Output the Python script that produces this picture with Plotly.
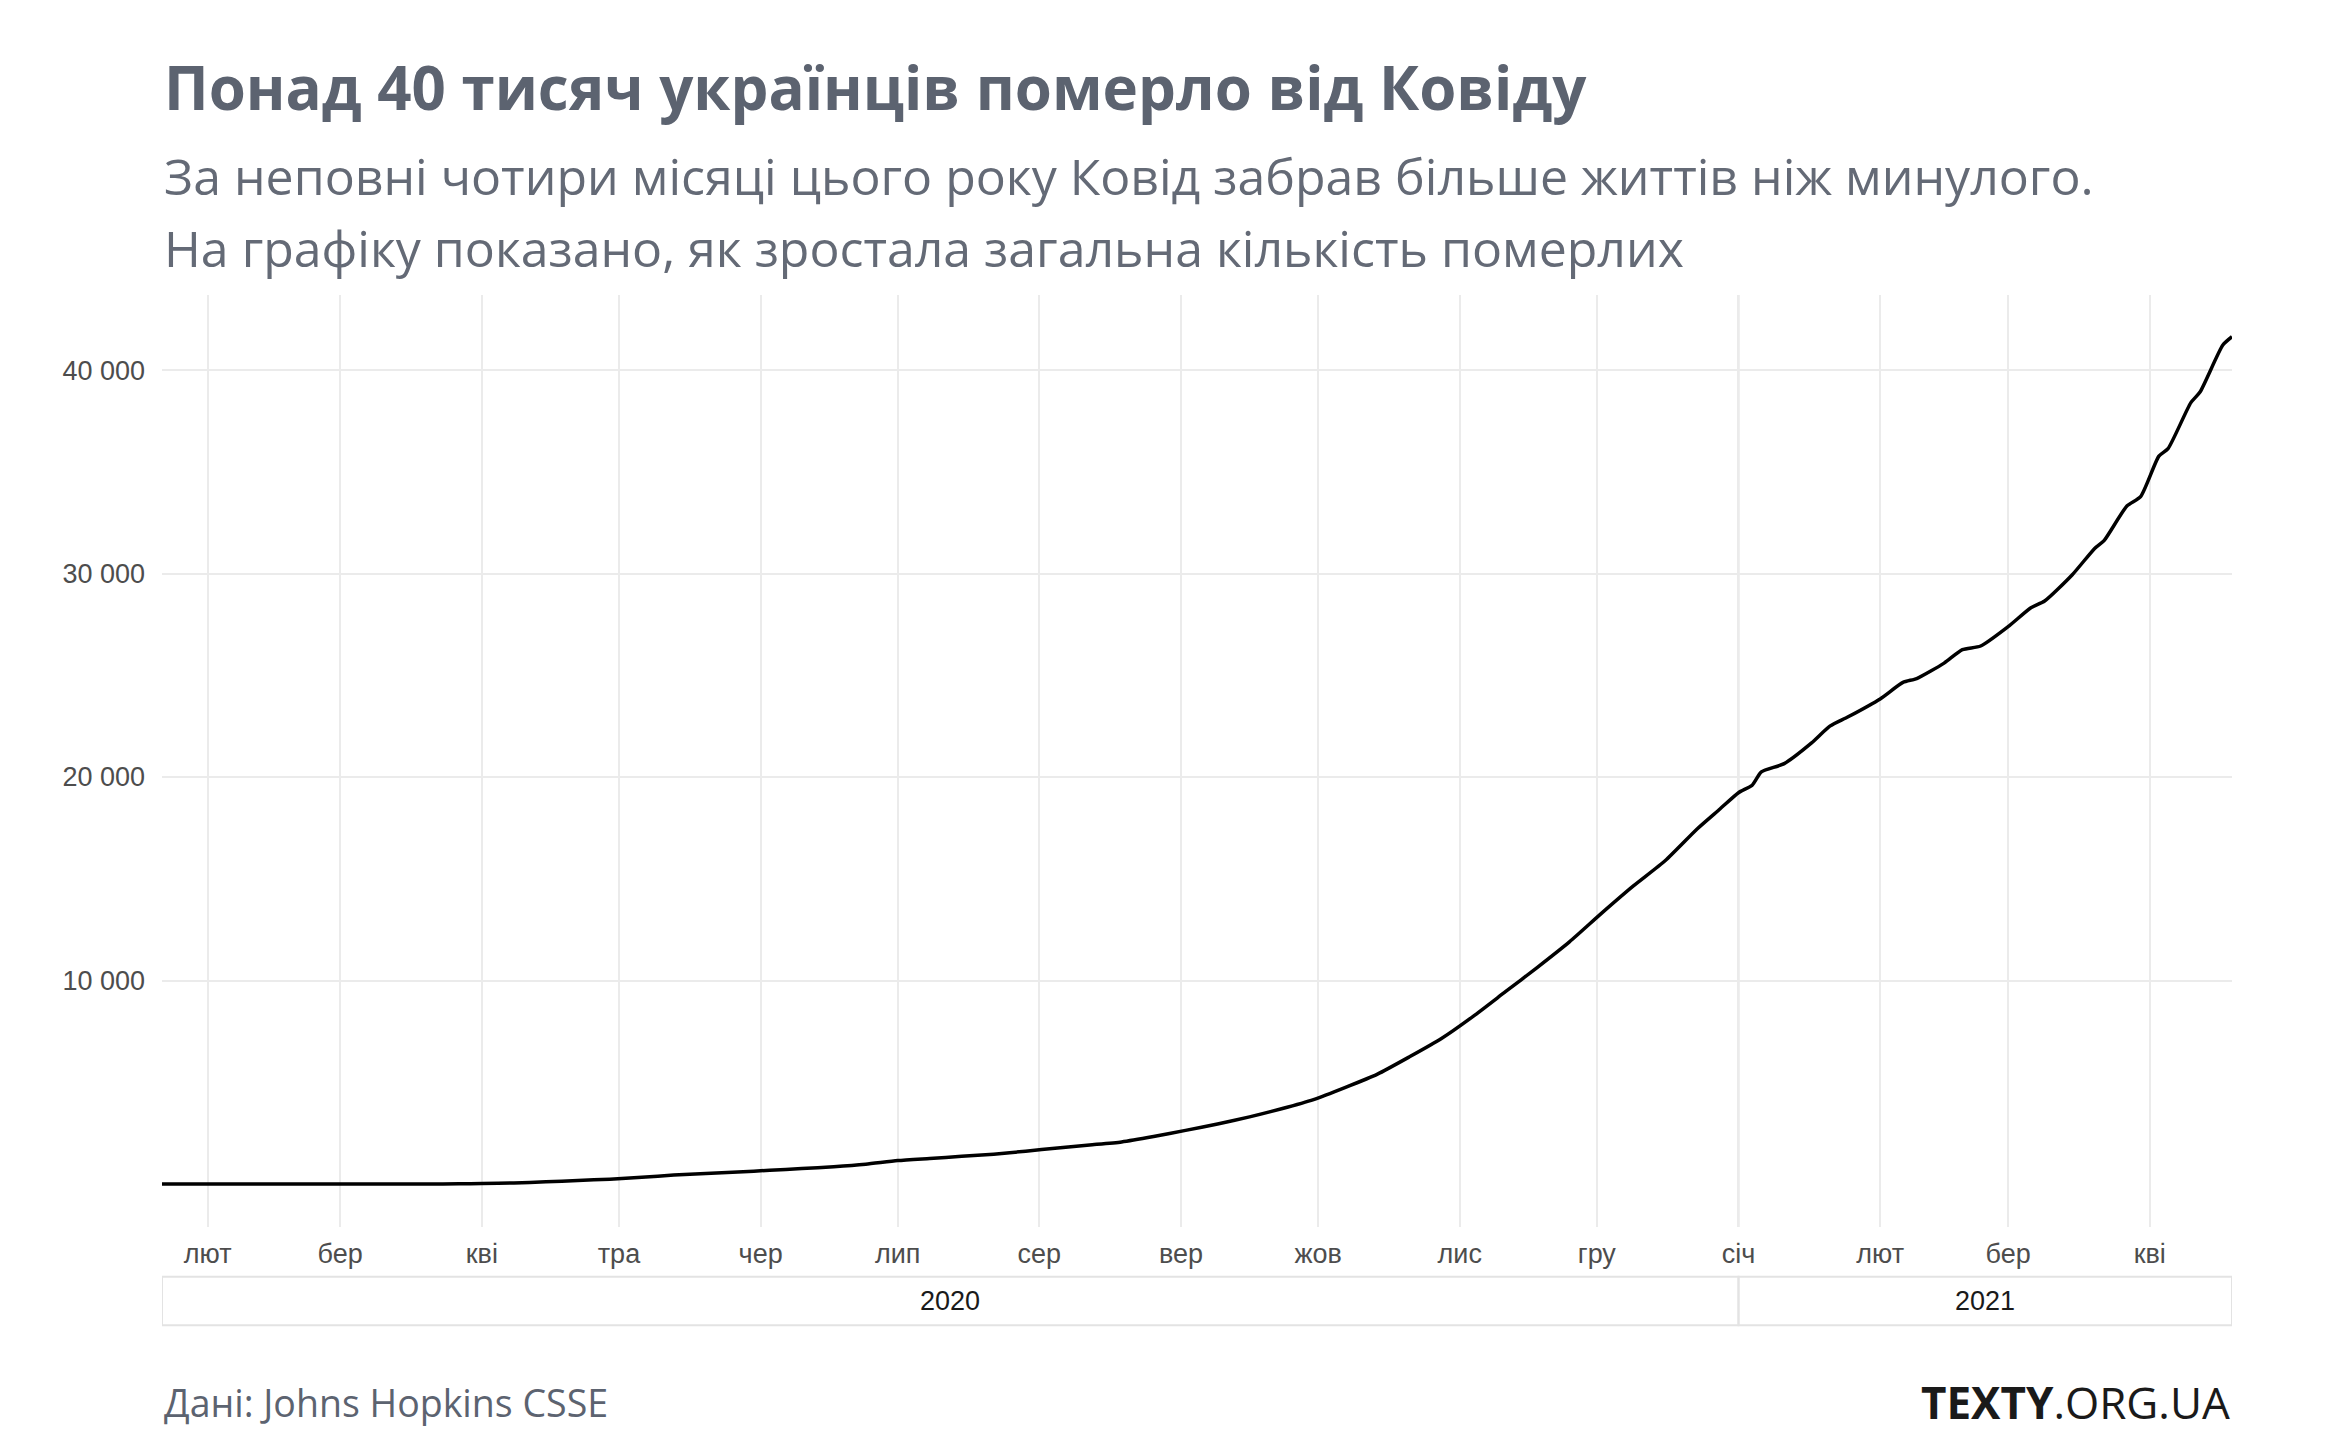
import pandas as pd
import plotly.graph_objects as go

# -----------------------------------------------------------
# Дані: сукупна кількість померлих (Johns Hopkins CSSE)
# -----------------------------------------------------------
dates = [
    "2020-01-22", "2020-02-15", "2020-03-01", "2020-03-12", "2020-03-20", "2020-03-27",
    "2020-04-01", "2020-04-08", "2020-04-15", "2020-04-22", "2020-04-29",
    "2020-05-06", "2020-05-13", "2020-05-20", "2020-05-27",
    "2020-06-03", "2020-06-10", "2020-06-17", "2020-06-24",
    "2020-07-01", "2020-07-08", "2020-07-15", "2020-07-22", "2020-07-29",
    "2020-08-05", "2020-08-12", "2020-08-19", "2020-08-26",
    "2020-09-02", "2020-09-09", "2020-09-16", "2020-09-23", "2020-09-30",
    "2020-10-07", "2020-10-14", "2020-10-21", "2020-10-28",
    "2020-11-04", "2020-11-11", "2020-11-18", "2020-11-25",
    "2020-12-02", "2020-12-09", "2020-12-16", "2020-12-23", "2020-12-28",
    "2021-01-01", "2021-01-04", "2021-01-06", "2021-01-11", "2021-01-17",
    "2021-01-21", "2021-01-25", "2021-02-01", "2021-02-06", "2021-02-09",
    "2021-02-15", "2021-02-19", "2021-02-23", "2021-03-01", "2021-03-06",
    "2021-03-09", "2021-03-15", "2021-03-20", "2021-03-22", "2021-03-27",
    "2021-03-30", "2021-04-03", "2021-04-05", "2021-04-10", "2021-04-12",
    "2021-04-17", "2021-04-19",
]
deaths = [
    0, 0, 0, 0, 3, 9,
    22, 52, 108, 174, 239,
    327, 439, 514, 588,
    674, 756, 850, 974,
    1150, 1254, 1358, 1468, 1612,
    1773, 1920, 2069, 2333,
    2636, 2950, 3300, 3700, 4150,
    4750, 5400, 6250, 7150,
    8250, 9450, 10650, 11900,
    13300, 14650, 15900, 17460, 18440,
    19230, 19600, 20250, 20660, 21680,
    22500, 22960, 23840, 24650, 24840,
    25600, 26260, 26440, 27390, 28320,
    28650, 29930, 31250, 31620, 33320,
    33780, 35770, 36140, 38400, 38920,
    41230, 41640,
]

month_ticks = pd.date_range("2020-02-01", "2021-04-01", freq="MS")
month_labels = ["лют", "бер", "кві", "тра", "чер", "лип", "сер", "вер",
                "жов", "лис", "гру", "січ", "лют", "бер", "кві"]
y_ticks = [10000, 20000, 30000, 40000]
y_labels = ["10 000", "20 000", "30 000", "40 000"]
years = ["2020", "2021"]

title = "Понад 40 тисяч українців померло від Ковіду"
subtitle_lines = ["За неповні чотири місяці цього року Ковід забрав більше життів ніж минулого.",
                  "На графіку показано, як зростала загальна кількість померлих"]
source = "Дані: Johns Hopkins CSSE"

TEXT_GREY = "#5c6370"
AXIS_FONT = "Liberation Sans"

x_start, x_end = dates[0], dates[-1]
year_edges = [x_start, "2021-01-01", x_end]

fig = go.Figure()
fig.add_trace(go.Scatter(
    x=pd.to_datetime(dates), y=deaths, mode="lines",
    line=dict(color="black", width=3.5, shape="spline", smoothing=0.6),
    hoverinfo="skip", showlegend=False,
))

# смуга з роками під віссю
for i, yr in enumerate(years):
    x0, x1 = pd.Timestamp(year_edges[i]), pd.Timestamp(year_edges[i + 1])
    fig.add_shape(type="rect", xref="x", yref="paper", x0=x0, x1=x1,
                  y0=-0.1055, y1=-0.0535, line=dict(color="#e3e3e3", width=2),
                  fillcolor="rgba(0,0,0,0)", layer="below")
    fig.add_annotation(x=x0 + (x1 - x0) / 2, xref="x", y=-0.0795, yref="paper",
                       text=yr, showarrow=False, yanchor="middle",
                       font=dict(family=AXIS_FONT, size=27, color="#1a1a1a"))

# межа років
fig.add_shape(type="line", xref="x", yref="paper", x0=pd.Timestamp("2021-01-01"),
              x1=pd.Timestamp("2021-01-01"), y0=0, y1=1,
              line=dict(color="#bdbdbd", width=1.5), layer="below")

fig.add_annotation(text="<b>" + title + "</b>", xref="paper", yref="paper",
                   x=0, y=1.223, xanchor="left", yanchor="middle", showarrow=False,
                   font=dict(family="Open Sans", size=60, color=TEXT_GREY))
for line_text, ypos in zip(subtitle_lines, [1.1277, 1.0504]):
    fig.add_annotation(text=line_text, xref="paper", yref="paper",
                       x=0, y=ypos, xanchor="left", yanchor="middle", showarrow=False,
                       font=dict(family="Open Sans", size=50, color="#646a76"))
fig.add_annotation(text=source, xref="paper", yref="paper",
                   x=0, y=-0.188, xanchor="left", yanchor="middle", showarrow=False,
                   font=dict(family="Open Sans", size=37.5, color=TEXT_GREY))
fig.add_annotation(text="<b>TEXTY</b>.ORG.UA", xref="paper", yref="paper",
                   x=1, y=-0.188, xanchor="right", yanchor="middle", showarrow=False,
                   font=dict(family="Open Sans", size=44, color="#1a1a1a"))

# сторінка має відступ 8 px, тож поля зсунуто відповідно
fig.update_layout(
    width=2344, height=1453,
    margin=dict(l=154, r=120, t=287, b=234),
    paper_bgcolor="white", plot_bgcolor="white",
    xaxis=dict(
        range=[pd.Timestamp(x_start), pd.Timestamp(x_end)],
        tickvals=month_ticks, ticktext=month_labels,
        showgrid=True, gridcolor="#ebebeb", gridwidth=2,
        zeroline=False, showline=False, ticks="",
        ticklabelstandoff=8,
        tickfont=dict(family=AXIS_FONT, size=27, color="#4d4d4d"),
    ),
    yaxis=dict(
        range=[-2113, 43690],
        tickvals=y_ticks, ticktext=y_labels,
        showgrid=True, gridcolor="#ebebeb", gridwidth=2,
        zeroline=False, showline=False, ticks="",
        ticklabelstandoff=16,
        tickfont=dict(family=AXIS_FONT, size=27, color="#4d4d4d"),
    ),
)

fig.write_html("out.html")
